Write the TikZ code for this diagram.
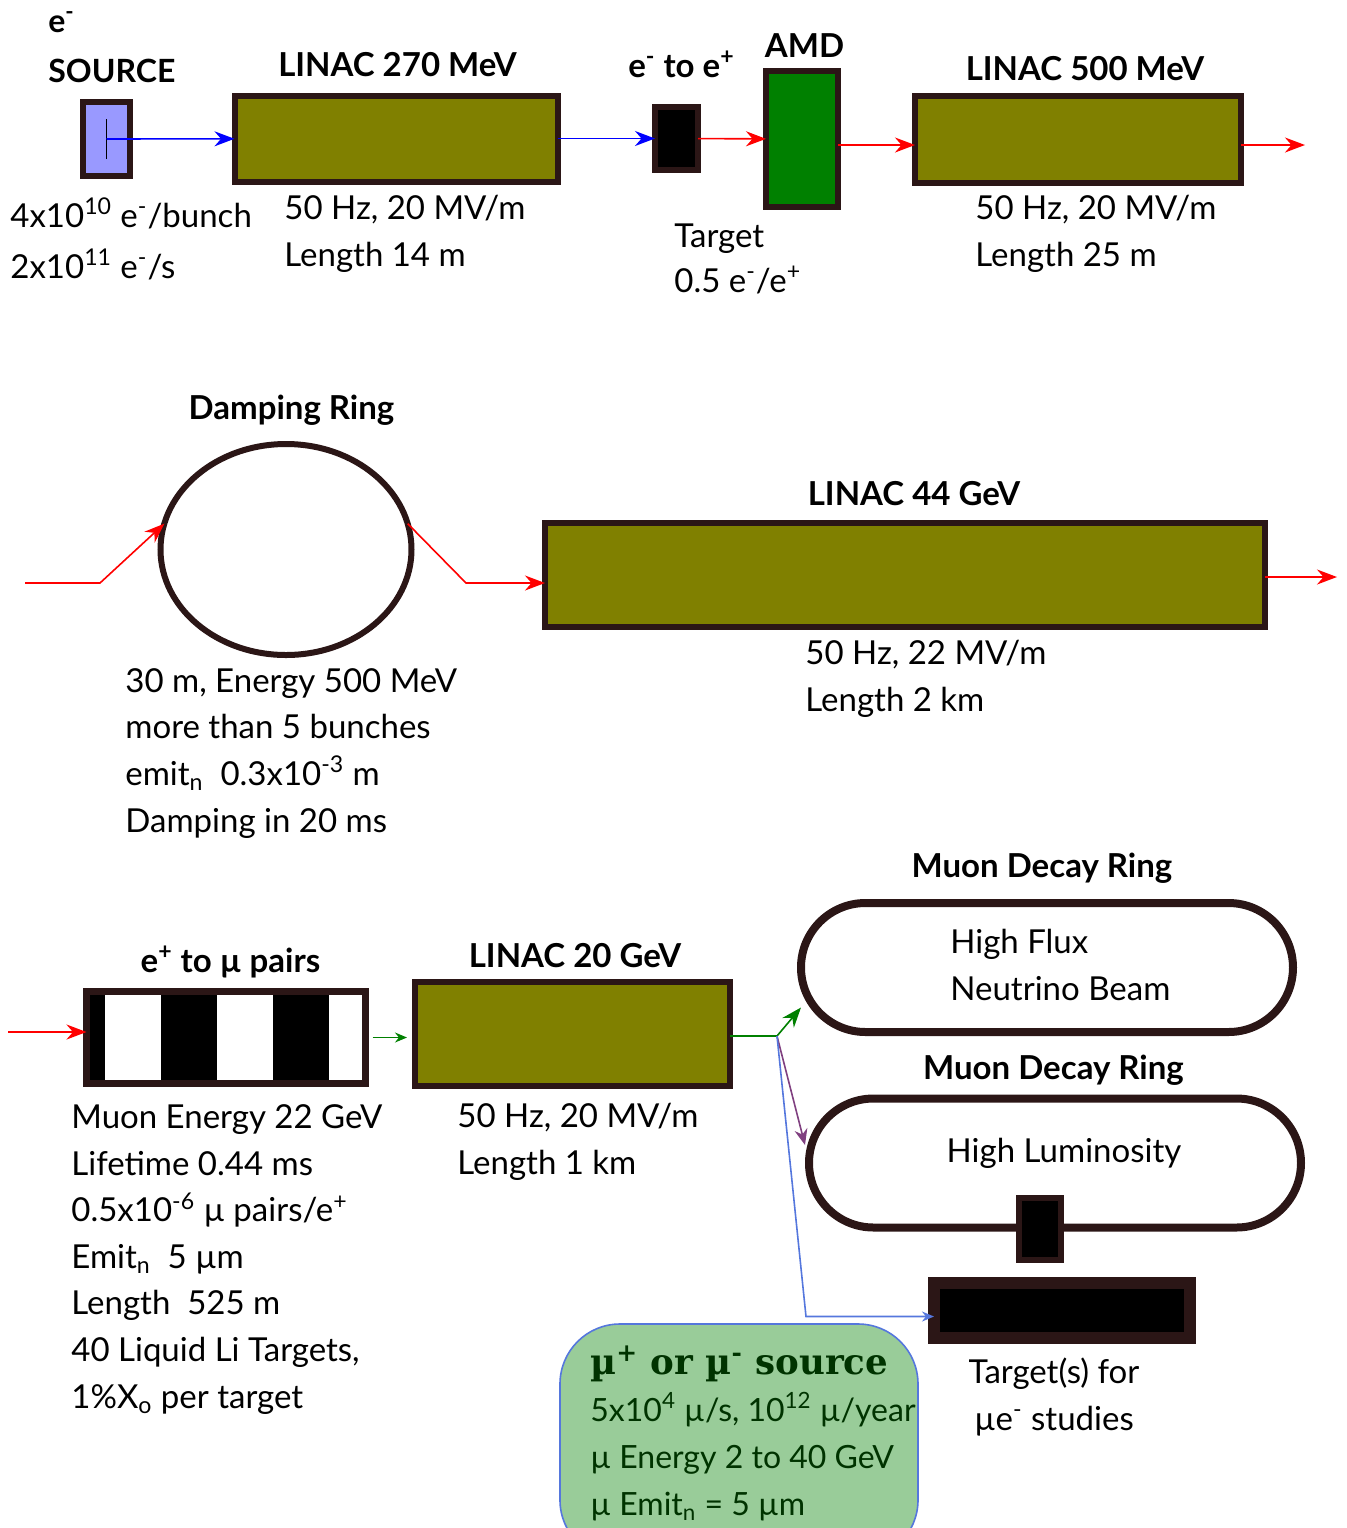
\documentclass[tikz,border=0pt]{standalone}
\usepackage{fontspec}
\setmainfont{Lato}
\newfontfamily\srcfont{DejaVu Serif}
\usetikzlibrary{arrows.meta,shapes.geometric,shapes.misc}
\definecolor{edge}{HTML}{2B1616}
\definecolor{olivebox}{HTML}{808000}
\definecolor{amdgreen}{HTML}{008000}
\definecolor{srcblue}{HTML}{9999FF}
\definecolor{srcgreen}{HTML}{99CC99}
\definecolor{darkgreen}{HTML}{003300}
\definecolor{lineblue}{HTML}{5577DD}
\definecolor{purp}{HTML}{804080}
\tikzset{
  box/.style={draw=edge,line width=3pt,inner sep=0pt,outer sep=0pt},
  linac/.style={box,fill=olivebox},
  decayring/.style={draw=edge,line width=4pt,rounded rectangle,minimum width=246pt,
    minimum height=64.5pt,inner sep=0pt,outer sep=0pt},
  head/.style={font=\fontsize{16.5}{25}\selectfont\bfseries,anchor=base,inner sep=0pt},
  txt/.style={font=\fontsize{16.5}{23.3}\selectfont,align=left,anchor=base west,inner sep=0pt},
  beam/.style={-{Stealth[length=10pt,width=7.5pt]},line width=0.8pt},
}
\begin{document}
\begin{tikzpicture}[x=0.5pt,y=-0.5pt]
\useasboundingbox (0,0) rectangle (1347,1528);
% positron source
\node[box,fill=srcblue,minimum width=23.5pt,minimum height=37pt] (src) at (106.5,139) {};
\node[linac,minimum width=161.5pt,minimum height=43pt] (l270) at (396,138.5) {};
\node[box,fill=black,minimum width=21.5pt,minimum height=31.5pt] (conv) at (676.5,138.5) {};
\node[box,fill=amdgreen,minimum width=36pt,minimum height=68pt] (amd) at (802,139) {};
\node[linac,minimum width=163pt,minimum height=43.5pt] (l500) at (1078,139.5) {};
\coordinate (out1) at (1305,145);
\draw[line width=0.8pt] ([yshift=-10pt]src.center) -- ([yshift=10pt]src.center);
\draw[beam,blue] (src.center) -- (l270);
\draw[beam,blue] (l270) -- (conv);
\draw[beam,red] (conv) -- (amd);
\draw[beam,red] (amd.east |- out1) -- (l500.west |- out1);
\draw[beam,red] (l500.east |- out1) -- (out1);
\node[head,align=left,anchor=base west,font=\fontsize{16}{25}\selectfont\bfseries] at (48,82) {e\textsuperscript{-}\\SOURCE};
\node[head] at (397.5,76) {LINAC 270 MeV};
\node[head] at (681.5,77) {e\textsuperscript{-} to e\textsuperscript{+}};
\node[head] at (804.5,57) {AMD};
\node[head] at (1085,80) {LINAC 500 MeV};
\node[txt] at (10,278) {4x10\textsuperscript{10} e\textsuperscript{-}/bunch\\[2pt]2x10\textsuperscript{11} e\textsuperscript{-}/s};
\node[txt] at (284,266) {50 Hz, 20 MV/m\\Length 14 m};
\node[txt] at (674,292) {Target\\[-1pt]0.5 e\textsuperscript{-}/e\textsuperscript{+}};
\node[txt] at (975,266) {50 Hz, 20 MV/m\\Length 25 m};
% damping ring and main linac
\node[draw=edge,line width=3pt,ellipse,minimum width=125.5pt,minimum height=105.5pt,inner sep=0pt,outer sep=0pt] (dring) at (286,549.5) {};
\node[linac,minimum width=360pt,minimum height=52pt] (l44) at (905,575) {};
\coordinate (in2) at (25,583);
\coordinate (out2) at (1337,577);
\draw[beam,red] (in2) -- ++(75,0) -- (dring.168);
\draw[beam,red] (dring.12) -- (466,583) -- (l44.west |- in2);
\draw[beam,red] (l44.east |- out2) -- (out2);
\node[head] at (291.5,419) {Damping Ring};
\node[head] at (914,505) {LINAC 44 GeV};
\node[txt] at (125,832) {30 m, Energy 500 MeV\\more than 5 bunches\\emit$_\mathrm{n}$\ \ 0.3x10\textsuperscript{-3} m\\Damping in 20 ms};
\node[txt] at (805,711) {50 Hz, 22 MV/m\\Length 2 km};
% muon production
\node[box,line width=3.5pt,fill=black,minimum width=139.5pt,minimum height=46pt,
  path picture={\foreach \s in {9.25,65.25,121.25}
    \fill[white] ([xshift=\s pt,yshift=-5pt]path picture bounding box.south west) rectangle ++(28pt,60pt);}] (mupair) at (226,1037.5) {};
\node[linac,minimum width=157.5pt,minimum height=52pt] (l20) at (572.5,1034) {};
\node[decayring] (flux) at (1047,967.5) {};
\node[decayring] (lumi) at (1055,1163) {};
\node[box,fill=black,minimum width=21pt,minimum height=31pt] (tgt) at (1040,1229) {};
\node[box,line width=6pt,fill=black,minimum width=128pt,minimum height=27.5pt] (tbar) at (1062,1310.5) {};
\node[draw=lineblue,line width=0.8pt,fill=srcgreen,rounded corners=30pt,minimum width=179pt,
  minimum height=118pt,inner sep=0pt,outer sep=0pt] (musrc) at (739,1442) {};
\coordinate (in3) at (8,1032);
\coordinate (split) at (777,1036);
\draw[beam,red] (in3) -- (mupair.west |- in3);
\draw[-{Stealth[length=6pt,width=5pt]},amdgreen,line width=0.6pt,shorten <=3.5pt,shorten >=4pt] (mupair.east) -- (l20.west |- mupair.east);
\draw[amdgreen,line width=0.8pt] (l20.east |- split) -- (split);
\draw[beam,amdgreen] (split) -- ([yshift=-20pt]flux.west);
\draw[-{Stealth[length=8pt,width=6.5pt]},purp,line width=0.8pt] (split) -- ([xshift=-2pt,yshift=9pt]lumi.west);
\draw[-{Stealth[length=6pt,width=5pt]},lineblue,line width=0.8pt] (split) -- ([xshift=-64pt,yshift=-3pt]tbar.west) -- ([yshift=-3pt]tbar.west);
\node[head] at (230.5,972) {e\textsuperscript{+} to µ pairs};
\node[head] at (575,967) {LINAC 20 GeV};
\node[head] at (1042,877) {Muon Decay Ring};
\node[head] at (1053.5,1079) {Muon Decay Ring};
\node[txt] at (71,1408) {Muon Energy 22 GeV\\Lifetime 0.44 ms\\0.5x10\textsuperscript{-6} µ pairs/e\textsuperscript{+}\\Emit$_\mathrm{n}$\ \ 5 µm\\Length\ \ 525 m\\40 Liquid Li Targets,\\1\%X\textsubscript{o} per target};
\node[txt] at (457,1174) {50 Hz, 20 MV/m\\Length 1 km};
\node[txt] at (950,1000) {High Flux\\Neutrino Beam};
\node[txt,anchor=base] at (1064,1162) {High Luminosity};
\node[txt,align=center,anchor=base] at (1054,1430) {Target(s) for\\µe\textsuperscript{-} studies};
\node[txt,text=darkgreen,font=\fontsize{16}{23.5}\selectfont] at (590,1515) {{\srcfont\bfseries\fontsize{17.8}{20}\selectfont µ\textsuperscript{+} or µ\textsuperscript{-} source}\\5x10\textsuperscript{4} µ/s, 10\textsuperscript{12} µ/year\\µ Energy 2 to 40 GeV\\µ Emit\textsubscript{n} = 5 µm};
\end{tikzpicture}
\end{document}
